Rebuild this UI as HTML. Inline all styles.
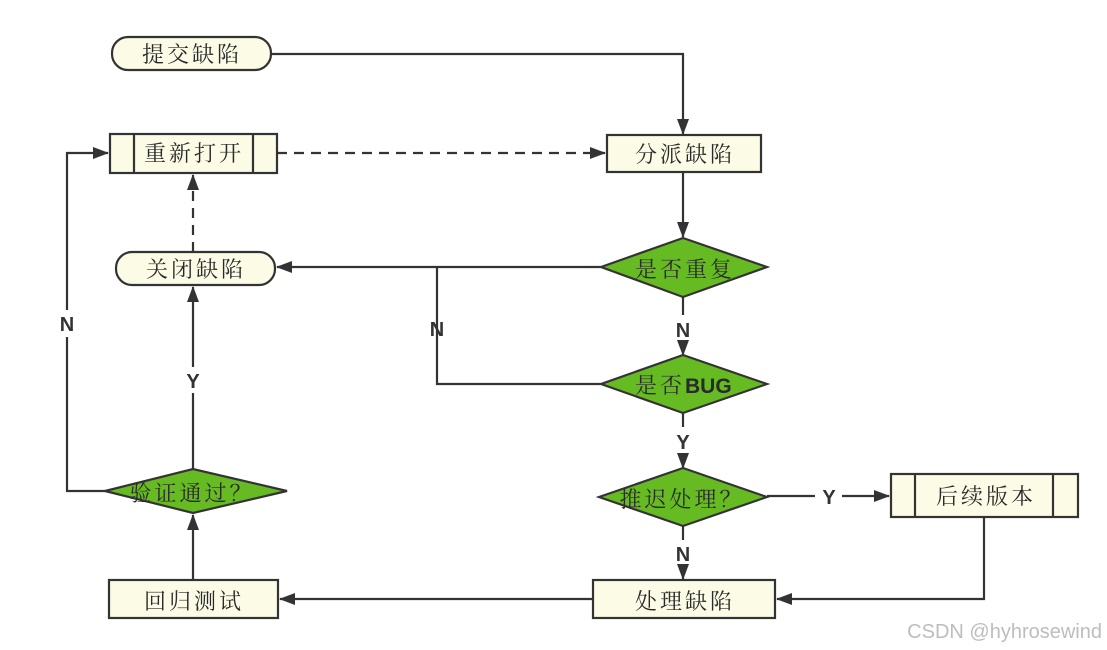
<!DOCTYPE html>
<html><head><meta charset="utf-8"><style>
html,body{margin:0;padding:0;background:#fff}
svg{display:block}
.t{font-family:"Noto Serif CJK SC","Noto Sans CJK SC",serif;font-size:22px;fill:#2a2a2a;letter-spacing:3px}
.l{font-family:"Liberation Sans",sans-serif;font-weight:bold;font-size:20px;fill:#333}
</style></head><body>
<svg width="1107" height="650" viewBox="0 0 1107 650" xmlns="http://www.w3.org/2000/svg">
<defs><marker id="a" markerWidth="16" markerHeight="12" refX="15" refY="6" orient="auto" markerUnits="userSpaceOnUse"><path d="M0,0 L16,6 L0,12 Z" fill="#333"/></marker></defs>
<g stroke="#333" stroke-width="2.2" fill="none">
<polyline points="271,54 683,54 683,134" marker-end="url(#a)"/>
<line x1="277" y1="153" x2="605" y2="153" stroke-dasharray="10,7" marker-end="url(#a)"/>
<line x1="683" y1="172" x2="683" y2="237" marker-end="url(#a)"/>
<line x1="601" y1="267" x2="277" y2="267" marker-end="url(#a)"/>
<polyline points="437,267 437,384 601,384"/>
<line x1="193" y1="252" x2="193" y2="175" stroke-dasharray="10,7" marker-end="url(#a)"/>
<line x1="683" y1="297" x2="683" y2="315"/>
<line x1="683" y1="343" x2="683" y2="355" marker-end="url(#a)"/>
<line x1="683" y1="413" x2="683" y2="427"/>
<line x1="683" y1="455" x2="683" y2="468" marker-end="url(#a)"/>
<line x1="767" y1="496" x2="815" y2="496"/>
<line x1="842" y1="496" x2="889" y2="496" marker-end="url(#a)"/>
<line x1="683" y1="526" x2="683" y2="540"/>
<line x1="683" y1="566" x2="683" y2="579" marker-end="url(#a)"/>
<polyline points="984,517 984,599 777,599" marker-end="url(#a)"/>
<line x1="593" y1="599" x2="280" y2="599" marker-end="url(#a)"/>
<line x1="193" y1="580" x2="193" y2="515" marker-end="url(#a)"/>
<line x1="193" y1="469" x2="193" y2="393"/>
<line x1="193" y1="367" x2="193" y2="287" marker-end="url(#a)"/>
<polyline points="105,491 67,491 67,337"/>
<polyline points="67,310 67,153 108,153" marker-end="url(#a)"/>
<rect x="112" y="37" width="159" height="33" rx="16" fill="#fbfbe6"/>
<rect x="110" y="134" width="167" height="39" fill="#fbfbe6"/>
<line x1="134" y1="134" x2="134" y2="173"/><line x1="253" y1="134" x2="253" y2="173"/>
<rect x="607" y="135" width="154" height="37" fill="#fbfbe6"/>
<rect x="116" y="252" width="159" height="33" rx="16" fill="#fbfbe6"/>
<polygon points="601,267 683,238 767,267 683,297" fill="#66bb22"/>
<polygon points="601,384 683,355 767,384 683,413" fill="#66bb22"/>
<polygon points="599,497 683,468 767,497 683,526" fill="#66bb22"/>
<polygon points="105,491 193,469 287,491 193,513" fill="#66bb22"/>
<rect x="891" y="474" width="187" height="43" fill="#fbfbe6"/>
<line x1="915" y1="474" x2="915" y2="517"/><line x1="1053" y1="474" x2="1053" y2="517"/>
<rect x="593" y="580" width="182" height="38" fill="#fbfbe6"/>
<rect x="109" y="580" width="169" height="38" fill="#fbfbe6"/>
</g>
<g class="t" text-anchor="middle">
<text x="192" y="62">提交缺陷</text>
<text x="194" y="161">重新打开</text>
<text x="685" y="162">分派缺陷</text>
<text x="196" y="277">关闭缺陷</text>
<text x="685" y="277">是否重复</text>
<text x="635" y="393" text-anchor="start">是否<tspan style="font-family:'Liberation Sans',sans-serif;font-weight:bold;letter-spacing:0;font-size:21px">BUG</tspan></text>
<text x="682" y="507">推迟处理？</text>
<text x="986" y="504">后续版本</text>
<text x="685" y="609">处理缺陷</text>
<text x="194" y="609">回归测试</text>
<text x="192" y="501">验证通过？</text>
</g>
<g class="l" text-anchor="middle">
<text x="683" y="337">N</text>
<text x="437" y="336">N</text>
<text x="683" y="449">Y</text>
<text x="829" y="504">Y</text>
<text x="683" y="561">N</text>
<text x="193" y="388">Y</text>
<text x="67" y="331">N</text>
</g>
<text x="1102" y="638" text-anchor="end" style="font-family:'Liberation Sans',sans-serif;font-size:20px;fill:#bdbdbd">CSDN @hyhrosewind</text>
</svg>
</body></html>
